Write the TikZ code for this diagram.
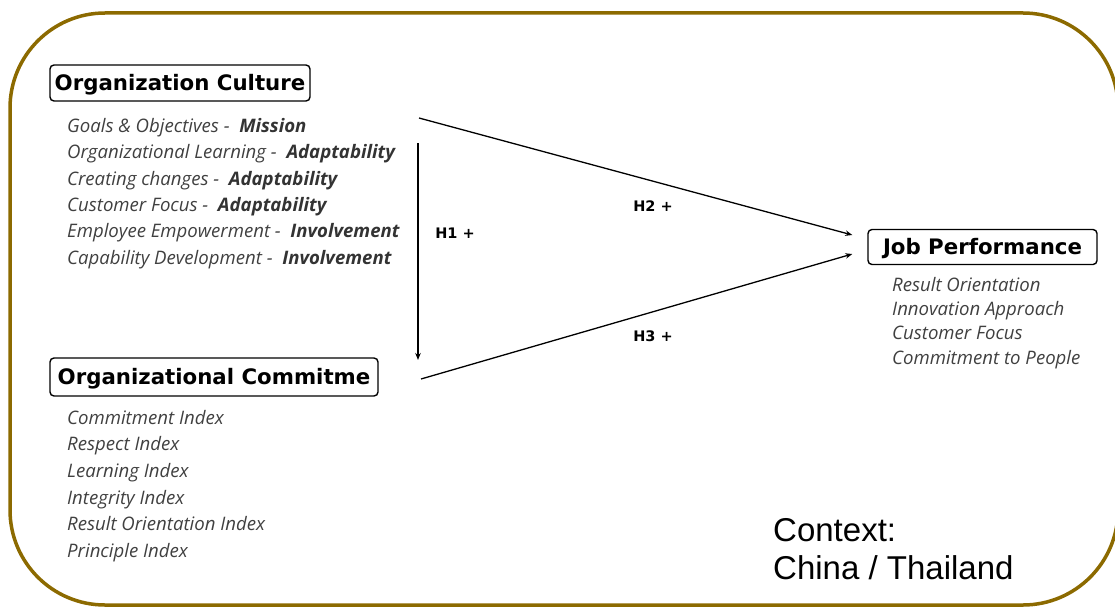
\documentclass[tikz,border=0pt]{standalone}
\usepackage{fontspec}
\usetikzlibrary{arrows.meta,calc}
\newfontfamily\boxfont{DejaVu Sans}
\newfontfamily\itemfont{Open Sans}
\newfontfamily\ctxfont{Liberation Sans}
\definecolor{framegold}{RGB}{140,106,0}
\definecolor{itemgray}{RGB}{64,64,64}
\definecolor{keygray}{RGB}{51,51,51}
\newcommand{\keyword}[1]{{\itemfont\bfseries\itshape\color{keygray}#1}}

\begin{document}
\begin{tikzpicture}[x=1pt,y=-1pt,
  construct/.style={draw, line width=1.4pt, rounded corners=4pt, inner sep=0pt,
    text height=19.5pt, text depth=4pt,
    font=\boxfont\bfseries\fontsize{21.3}{25}\selectfont},
  items/.style={anchor=north west, align=left, inner sep=0pt, text=itemgray,
    font=\itemfont\itshape\fontsize{18.6}{26.4}\selectfont},
  hyp/.style={font=\boxfont\bfseries\fontsize{14.5}{17}\selectfont},
  link/.style={line width=1.3pt, -{Stealth[length=7pt,width=5.5pt]}},
]
\useasboundingbox (0,0) rectangle (1115,607);

% outer frame
\draw[framegold, line width=3.5pt, rounded corners=95pt] (10,13) rectangle (1118,605);

% constructs
\node[construct, minimum width=260pt, minimum height=36pt] (oc) at (180,83) {Organization Culture};
\node[construct, minimum width=328pt, minimum height=38pt] (ocm) at (214,377) {Organizational Commitme};
\node[construct, minimum width=229pt, minimum height=35pt] (jp) at (982.5,247) {Job Performance};

% dimensions of each construct
\node[items] (oclist) at (67,118) {Goals \& Objectives -\ \ \keyword{Mission}\\
Organizational Learning -\ \ \keyword{Adaptability}\\
Creating changes -\ \ \keyword{Adaptability}\\
Customer Focus -\ \ \keyword{Adaptability}\\
Employee Empowerment -\ \ \keyword{Involvement}\\
Capability Development -\ \ \keyword{Involvement}};

\node[items, font=\itemfont\itshape\fontsize{18.6}{26.6}\selectfont] (ocmlist) at (67,410) {Commitment Index\\
Respect Index\\
Learning Index\\
Integrity Index\\
Result Orientation Index\\
Principle Index};

\node[items, font=\itemfont\itshape\fontsize{18.6}{24.3}\selectfont] (jplist) at (892,277) {Result Orientation\\
Innovation Approach\\
Customer Focus\\
Commitment to People};

% context
\node[anchor=north west, align=left, inner sep=0pt,
  font=\ctxfont\fontsize{33}{38}\selectfont] (ctx) at (773,518) {Context:\\China / Thailand};

% hypothesised paths
\coordinate (h1s) at (418,143);
\coordinate (h1e) at (418,360);
\coordinate (h2s) at (419,118);
\coordinate (h3s) at (421,379);
\coordinate (h2e) at ($(jp.west)+(-15,-12)$);
\coordinate (h3e) at ($(jp.west)+(-15,7)$);

\draw[link] (h1s) -- (h1e);
\draw[link] (h2s) -- (h2e);
\draw[link] (h3s) -- (h3e);

\node[hyp] (h1) at (455,233) {H1 +};
\node[hyp] (h2) at (653,206) {H2 +};
\node[hyp] (h3) at (653,336) {H3 +};
\end{tikzpicture}
\end{document}
